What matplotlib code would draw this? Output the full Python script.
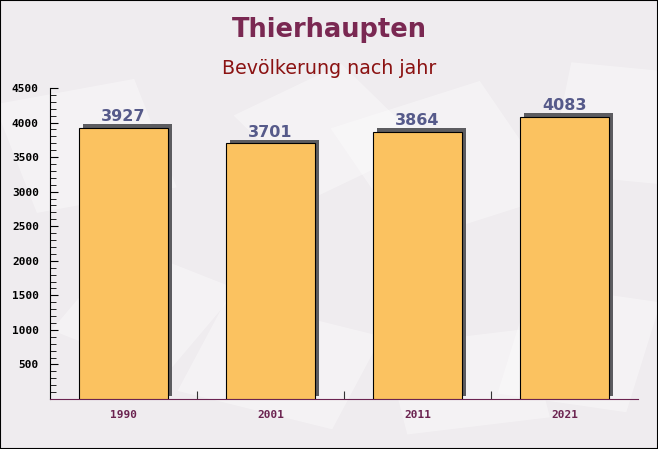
import matplotlib

matplotlib.use("Agg")
import matplotlib.pyplot as plt
from matplotlib.patches import Rectangle
from matplotlib.transforms import ScaledTranslation, Affine2D

years = ["1990", "2001", "2011", "2021"]
population = [3927, 3701, 3864, 4083]
y_ticks = [500, 1000, 1500, 2000, 2500, 3000, 3500, 4000, 4500]

BG = "#efecef"
BAR = "#fbc260"
TITLE_C = "#7a2852"
SUB_C = "#8b1212"
VAL_C = "#565a8a"
XLAB_C = "#6b2350"

fig = plt.figure(figsize=(6.58, 4.49), dpi=100, facecolor=BG)

# faint envelope-like texture in the background (its own axes, behind everything)
bg = fig.add_axes([0, 0, 1, 1], zorder=-5)
bg.set_axis_off()
bg.set_xlim(0, 1)
bg.set_ylim(0, 1)
for (x, y, w, h, ang) in [(0.02, 0.55, 0.22, 0.25, 15), (0.30, 0.08, 0.25, 0.22, -20),
                          (0.55, 0.50, 0.25, 0.28, 25), (0.78, 0.10, 0.20, 0.25, -12),
                          (0.60, 0.05, 0.22, 0.20, 10), (0.12, 0.20, 0.20, 0.22, -30),
                          (0.40, 0.60, 0.20, 0.22, 35), (0.85, 0.60, 0.18, 0.25, -8)]:
    bg.add_patch(Rectangle((x, y), w, h, facecolor="white", alpha=0.35, edgecolor="none",
                           transform=Affine2D().rotate_deg_around(x + w / 2, y + h / 2, ang) + bg.transAxes))

ax = fig.add_axes([50 / 658, 50 / 449, 588 / 658, 311 / 449])
ax.set_facecolor("none")

xs = list(range(len(years)))
shadow = ax.transData + ScaledTranslation(0.04, 0.035, fig.dpi_scale_trans)
ax.bar(xs, population, width=0.6, color="#5c5c60", transform=shadow, zorder=2)
ax.bar(xs, population, width=0.6, color=BAR, edgecolor="black", linewidth=0.8, zorder=3)

for x, v in zip(xs, population):
    ax.annotate(str(v), (x, v), xytext=(0, 2.5), textcoords="offset points", ha="center",
                va="bottom", fontsize=11.5, fontweight="bold", color=VAL_C, zorder=4)

ax.set_xlim(-0.5, len(years) - 0.5)
ax.set_ylim(0, 4500)
ax.set_yticks(y_ticks)
ax.set_yticklabels([str(t) for t in y_ticks], fontfamily="DejaVu Sans Mono",
                   fontweight="bold", fontsize=8, color="black")
ax.set_yticks(range(0, 4501, 100), minor=True)
ax.tick_params(axis="y", which="major", direction="in", length=6, width=0.8, pad=8)
ax.tick_params(axis="y", which="minor", direction="in", length=4, width=0.6)

ax.set_xticks([0.5, 1.5, 2.5])
ax.set_xticklabels([])
ax.set_xticks(xs, minor=True)
ax.set_xticklabels(years, minor=True, fontfamily="DejaVu Sans Mono",
                   fontweight="bold", fontsize=8, color=XLAB_C)
ax.tick_params(axis="x", which="major", direction="in", length=6, width=0.8, color="#333333")
ax.tick_params(axis="x", which="minor", length=0, pad=8)

for s in ("top", "right"):
    ax.spines[s].set_visible(False)
ax.spines["left"].set_color("black")
ax.spines["bottom"].set_color(XLAB_C)

fig.text(0.5, 1 - 30 / 449, "Thierhaupten", ha="center", va="center", fontsize=18.5,
         fontweight="bold", color=TITLE_C)
fig.text(0.5, 1 - 69 / 449, "Bevölkerung nach jahr", ha="center", va="center",
         fontsize=13.7, color=SUB_C)

bg.add_patch(Rectangle((0, 0), 1, 1, transform=bg.transAxes, fill=False,
                       edgecolor="black", linewidth=1.5))

fig.savefig("out.png", dpi=100, facecolor=BG)
